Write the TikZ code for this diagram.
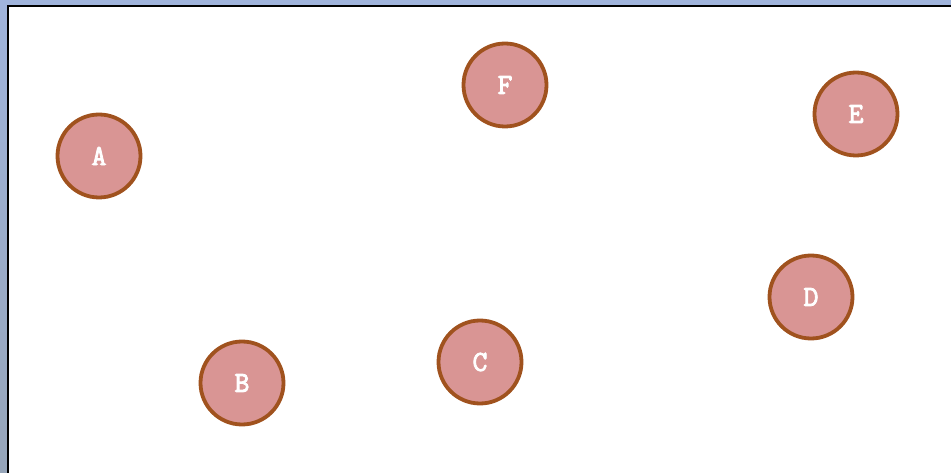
\documentclass[tikz,border=0pt]{standalone}
\usepackage{fontspec}
\newfontfamily\nodefont[FakeBold=3]{Latin Modern Mono}
\definecolor{bgblue}{RGB}{160,180,220}
\definecolor{bgblue2}{RGB}{150,165,185}
\definecolor{nodefill}{RGB}{217,149,148}
\definecolor{nodeedge}{RGB}{160,82,30}
\tikzset{
  vert/.style={circle, draw=nodeedge, fill=nodefill, line width=3.8pt,
    minimum size=83pt, inner sep=0pt, text=white,
    font=\nodefont\fontsize{29}{32}\selectfont}
}
\begin{document}
\begin{tikzpicture}[x=1pt,y=-1pt]
\useasboundingbox (0,0) rectangle (951,473);
\shade[top color=bgblue, bottom color=bgblue2] (0,0) rectangle (951,473);
\fill[white] (8,6) rectangle (951,473);
\draw[black, line width=2pt] (8,473) -- (8,6) -- (951,6);
\node[vert] (A) at (99,156) {A};
\node[vert] (F) at (505,85) {F};
\node[vert] (E) at (856,114) {E};
\node[vert] (D) at (811,297) {D};
\node[vert] (C) at (480,362) {C};
\node[vert] (B) at (242,383) {B};
\end{tikzpicture}
\end{document}
